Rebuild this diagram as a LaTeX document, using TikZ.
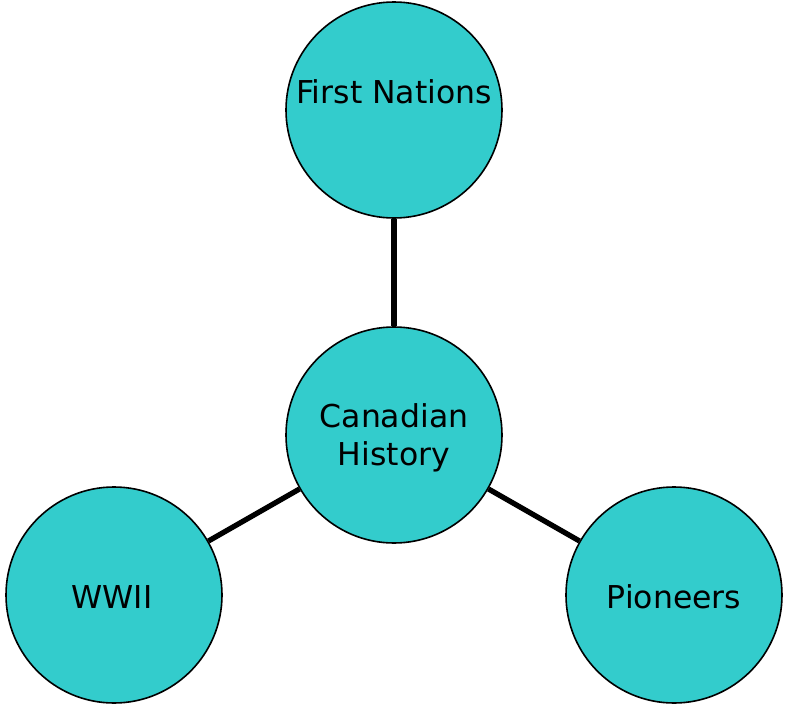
\documentclass[tikz,border=0pt]{standalone}
\usepackage{fontspec}
\setmainfont{DejaVu Sans}
\definecolor{teal}{HTML}{33CCCC}
\begin{document}
\begin{tikzpicture}[x=1pt,y=-1pt,
  bubble/.style={circle,draw=black,line width=1.6pt,fill=teal,minimum size=216pt,inner sep=0pt},
  lbl/.style={font=\fontsize{31.5}{36}\selectfont,inner sep=0pt,anchor=base,text=black},
  link/.style={line width=5.3pt,draw=black}]
\useasboundingbox (0,0) rectangle (788,707);
\node[bubble] (fn) at (394,110) {};
\node[bubble] (ch) at (394,435) {};
\node[bubble] (ww) at (114,595) {};
\node[bubble] (pi) at (674,595) {};
\draw[link] (fn) -- (ch);
\draw[link] (ch) -- (ww);
\draw[link] (ch) -- (pi);
\node[lbl] (tfn) at (394,103) {First Nations};
\node[lbl] (tch1) at (394,427) {Canadian};
\node[lbl] (tch2) at (394,465) {History};
\node[lbl] (tww) at (112,608) {WWII};
\node[lbl] (tpi) at (674,608) {Pioneers};
\end{tikzpicture}
\end{document}
